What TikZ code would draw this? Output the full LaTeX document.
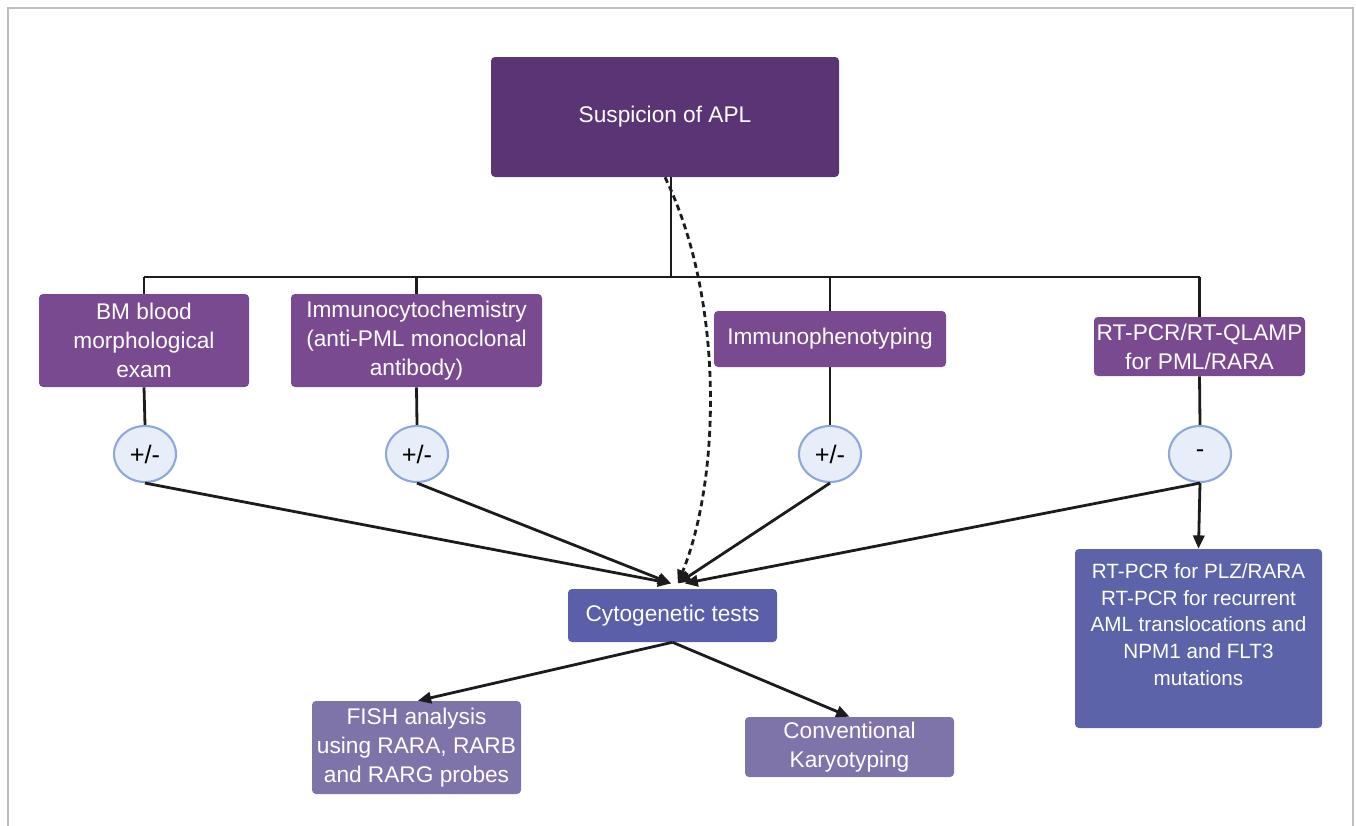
\documentclass[tikz,border=0pt]{standalone}
\usepackage{fontspec}
\setmainfont{Liberation Sans}
\usetikzlibrary{shapes.geometric,arrows.meta,positioning}

\definecolor{aplpurple}{HTML}{5B3476}
\definecolor{testpurple}{HTML}{7A4A91}
\definecolor{cytoblue}{HTML}{5B5FAA}
\definecolor{pcrblue}{HTML}{5C63A9}
\definecolor{lightpurple}{HTML}{7F74AA}
\definecolor{ellfill}{HTML}{E8EEF9}
\definecolor{ellborder}{HTML}{8FA8D9}
\definecolor{linkgray}{HTML}{1C1C1C}
\definecolor{framegray}{HTML}{BDBDBD}

\tikzset{
  box/.style={rectangle, rounded corners=3pt, text=white, align=center, inner sep=0pt,
    font=\fontsize{17}{21.75}\selectfont},
  result/.style={ellipse, draw=ellborder, fill=ellfill, line width=1.6pt, inner sep=0pt,
    minimum width=46.5pt, minimum height=42pt, font=\fontsize{19}{22}\selectfont},
  link/.style={draw=linkgray, line width=2.1pt},
  arr/.style={link, -{Triangle[length=10pt,width=8.5pt]}}
}

\begin{document}
\begin{tikzpicture}[x=0.75pt,y=-0.75pt]
\useasboundingbox (0,0) rectangle (1356,825);
\draw[framegray, line width=1.5pt] (8,826) -- (8,8) -- (1353,8) -- (1353,826);

\node (apl) at (665,117) [box, fill=aplpurple, minimum width=261pt, minimum height=90pt] {Suspicion of APL};

\node (bm) at (144,340.5) [box, fill=testpurple, minimum width=157.5pt, minimum height=69.75pt] {BM blood\\morphological\\exam};
\node (icc) at (416.5,340.5) [box, fill=testpurple, minimum width=188.25pt, minimum height=69.75pt] {Immunocytochemistry\\(anti-PML monoclonal\\antibody)};
\node (ipt) at (830,339) [box, fill=testpurple, minimum width=174pt, minimum height=42pt] {Immunophenotyping};
\node (rtq) at (1199.5,346.5) [box, fill=testpurple, minimum width=158.25pt, minimum height=44.25pt] {RT-PCR/RT-QLAMP\\for PML/RARA};

\node (r1) at (145,454) [result] {+/-};
\node (r2) at (417,454) [result] {+/-};
\node (r3) at (830,454) [result] {+/-};
\node (r4) at (1200,454) [result] {-};

\node (cyto) at (672.5,615.5) [box, fill=cytoblue, minimum width=156.75pt, minimum height=39.75pt] {Cytogenetic tests};
\node (pcr) at (1198.5,638.5) [box, fill=pcrblue, minimum width=185.25pt, minimum height=134.25pt, text depth=21pt,
  font=\fontsize{15.5}{20}\selectfont] {RT-PCR for PLZ/RARA\\RT-PCR for recurrent\\AML translocations and\\NPM1 and FLT3\\mutations};
\node (fish) at (416.5,747.5) [box, fill=lightpurple, minimum width=156.75pt, minimum height=69.75pt] {FISH analysis\\using RARA, RARB\\and RARG probes};
\node (karyo) at (849.5,747) [box, fill=lightpurple, minimum width=156.75pt, minimum height=45pt] {Conventional\\Karyotyping};

\coordinate (bus) at (671,277);
\coordinate (aplout) at (apl.south -| bus);

\draw[link] (aplout) -- (bus);
\draw[link] (bm.north |- bus) -- (rtq.north |- bus);
\foreach \t/\r in {bm/r1,icc/r2,ipt/r3,rtq/r4} {
  \draw[link] (\t.north |- bus) -- (\t.north);
  \draw[link] (\t.south) -- (\r.north);
}

\draw[arr] (r1.south) -- ([xshift=-1pt,yshift=4pt]cyto.north);
\draw[arr] (r2.south) -- ([xshift=-1pt,yshift=4pt]cyto.north);
\draw[arr] (r3.south) -- ([xshift=4pt,yshift=4pt]cyto.north);
\draw[arr] (r4.south) -- ([xshift=9pt,yshift=4pt]cyto.north);
\draw[arr] (r4.south) -- (pcr.north);
\draw[arr, dash pattern=on 4.5pt off 3pt] (apl.south) .. controls (725,300) and (720,480) .. ([xshift=4pt,yshift=4pt]cyto.north);

\draw[arr] (cyto.south) -- ([xshift=1pt]fish.north);
\draw[arr] (cyto.south) -- (karyo.north);
\end{tikzpicture}
\end{document}
